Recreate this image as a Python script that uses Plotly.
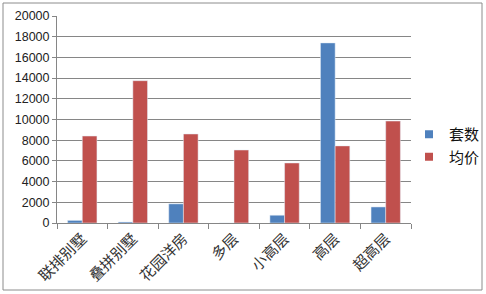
import plotly.graph_objects as go

categories = ["联排别墅", "叠拼别墅", "花园洋房", "多层", "小高层", "高层", "超高层"]
taoshu = [250, 100, 1850, 0, 750, 17400, 1550]
junjia = [8400, 13750, 8600, 7050, 5800, 7450, 9850]
yticks = [0, 2000, 4000, 6000, 8000, 10000, 12000, 14000, 16000, 18000, 20000]
series_names = ["套数", "均价"]
series_colors = ["#4F81BD", "#C0504D"]

W, H = 486, 294
L, R, T, B = 57, 75, 16, 71
pw, ph = W - L - R, H - T - B

fig = go.Figure()
for vals, name, col in zip([taoshu, junjia], series_names, series_colors):
    fig.add_trace(go.Bar(x=categories, y=vals, name=name, marker_color=col, showlegend=False))
for name, col in zip(series_names, series_colors):
    fig.add_trace(go.Scatter(x=[None], y=[None], mode="markers", name=name,
                             marker=dict(symbol="square", size=8, color=col)))

def px2x(p):
    return (p - L) / pw

def py2y(p):
    return 1 - (p - T) / ph

fig.add_shape(type="rect", xref="paper", yref="paper",
              x0=px2x(3), x1=px2x(482), y0=py2y(290), y1=py2y(3),
              line=dict(color="#8c8c8c", width=1), layer="below")

fig.update_layout(
    width=W, height=H,
    margin=dict(l=L, r=R, t=T, b=B, autoexpand=False),
    paper_bgcolor="white", plot_bgcolor="white",
    barmode="group", bargap=0.42, bargroupgap=0,
    font=dict(family="Liberation Sans, Arial", size=12, color="#222"),
    showlegend=True,
    legend=dict(x=px2x(409), y=py2y(118), xanchor="left", yanchor="top",
                font=dict(family="Noto Sans CJK SC", size=15, color="#111"),
                itemwidth=30, tracegroupgap=4, bgcolor="rgba(0,0,0,0)"),
)
fig.update_xaxes(
    tickangle=-45, tickson="boundaries", ticks="outside", ticklen=5,
    tickcolor="#868686", showline=True, linecolor="#868686", linewidth=1,
    tickfont=dict(family="Noto Sans CJK SC", size=15, color="#333"),
    showgrid=False, automargin=False,
)
fig.update_yaxes(
    range=[0, 20000], tickvals=yticks, ticktext=[str(v) for v in yticks],
    showgrid=True, gridcolor="#868686", gridwidth=1,
    showline=True, linecolor="#868686", linewidth=1,
    ticks="outside", ticklen=4, tickcolor="#868686",
    tickfont=dict(family="Liberation Sans, Arial", size=12.5, color="#222"),
    zeroline=False, automargin=False,
)
fig.write_html("out.html")
